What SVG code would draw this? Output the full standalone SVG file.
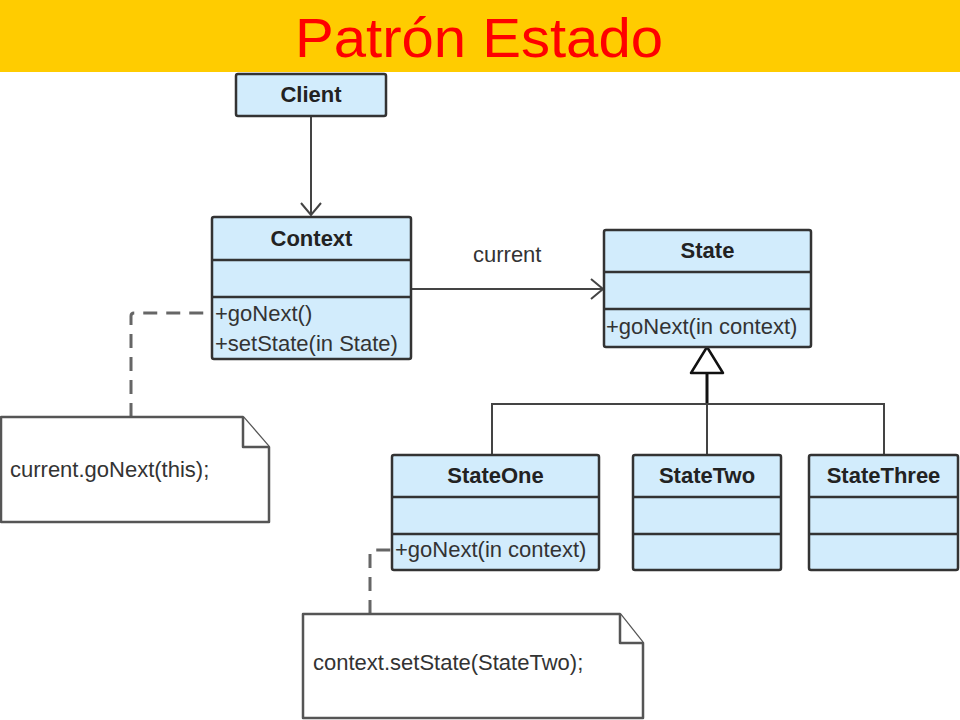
<svg xmlns="http://www.w3.org/2000/svg" width="960" height="720" viewBox="0 0 960 720">
<defs>
<style>
.box{fill:#D2ECFC;stroke:#333;stroke-width:2.5}
.sep{stroke:#333;stroke-width:2.5}
.hd{font-family:"Liberation Sans",Arial,sans-serif;font-weight:bold;font-size:22px;fill:#222;text-anchor:middle}
.op{font-family:"Liberation Sans",Arial,sans-serif;font-size:22px;fill:#333}
.note{fill:#fff;stroke:#555;stroke-width:2.5;stroke-linejoin:round}
.ln{fill:none;stroke:#444;stroke-width:2}
.dash{fill:none;stroke:#666;stroke-width:3;stroke-dasharray:14 9}
</style>
<marker id="open" viewBox="0 0 14 22" refX="13" refY="11" markerWidth="14" markerHeight="22" markerUnits="userSpaceOnUse" orient="auto">
<path d="M1,1 L13,11 L1,21" fill="none" stroke="#444" stroke-width="2"/>
</marker>
</defs>
<rect width="960" height="720" fill="#fff"/>
<g id="title">
<rect x="0" y="0" width="960" height="72" fill="#FFCC00"/>
<text x="295" y="57" font-family="Liberation Sans,Arial,sans-serif" font-size="56" fill="#FF0000" textLength="368" lengthAdjust="spacingAndGlyphs">Patrón Estado</text>
</g>
<g id="connectors">
<path class="ln" d="M311,116 V215" marker-end="url(#open)"/>
<path class="ln" d="M411,289 H603" marker-end="url(#open)"/>
<text class="op" x="473" y="262">current</text>
<path d="M707,373 V404" fill="none" stroke="#111" stroke-width="3"/>
<path class="ln" stroke-width="2.5" d="M492,455 V404 H884 V455 M707,404 V455"/>
<path d="M707,347 L723,373 L691,373 Z" fill="#fff" stroke="#111" stroke-width="2.5" stroke-linejoin="round"/>
<path class="dash" d="M131,417 V316 Q131,313 134,313 H214"/>
<path class="dash" stroke-width="2.5" d="M370,614 V553 Q370,550 373,550 H393"/>
</g>
<g id="client">
<rect class="box" x="236" y="74" width="150" height="42" rx="2"/>
<text class="hd" x="311" y="102">Client</text>
</g>
<g id="context">
<rect class="box" x="212" y="217" width="199" height="142" rx="2"/>
<line class="sep" x1="212" y1="260" x2="411" y2="260"/>
<line class="sep" x1="212" y1="297" x2="411" y2="297"/>
<text class="hd" x="311.5" y="246">Context</text>
<text class="op" x="215" y="321">+goNext()</text>
<text class="op" x="215" y="351">+setState(in State)</text>
</g>
<g id="state">
<rect class="box" x="604" y="230" width="207" height="117" rx="2"/>
<line class="sep" x1="604" y1="272" x2="811" y2="272"/>
<line class="sep" x1="604" y1="309" x2="811" y2="309"/>
<text class="hd" x="707.5" y="258">State</text>
<text class="op" x="606" y="334">+goNext(in context)</text>
</g>
<g id="stateOne">
<rect class="box" x="392" y="455" width="207" height="115" rx="2"/>
<line class="sep" x1="392" y1="497" x2="599" y2="497"/>
<line class="sep" x1="392" y1="534" x2="599" y2="534"/>
<text class="hd" x="495.5" y="483">StateOne</text>
<text class="op" x="395" y="557">+goNext(in context)</text>
</g>
<g id="stateTwo">
<rect class="box" x="633" y="455" width="148" height="115" rx="2"/>
<line class="sep" x1="633" y1="497" x2="781" y2="497"/>
<line class="sep" x1="633" y1="534" x2="781" y2="534"/>
<text class="hd" x="707" y="483">StateTwo</text>
</g>
<g id="stateThree">
<rect class="box" x="809" y="455" width="149" height="115" rx="2"/>
<line class="sep" x1="809" y1="497" x2="958" y2="497"/>
<line class="sep" x1="809" y1="534" x2="958" y2="534"/>
<text class="hd" x="883.5" y="483">StateThree</text>
</g>
<g id="note1">
<path class="note" d="M1,417 H243 L269,447 V522 H1 Z"/>
<path class="note" fill="none" d="M243,417 V447 H269"/>
<text class="op" x="10" y="477">current.goNext(this);</text>
</g>
<g id="note2">
<path class="note" d="M303,614 H620 L643,643 V718 H303 Z"/>
<path class="note" fill="none" d="M620,614 V643 H643"/>
<text class="op" x="313" y="670">context.setState(StateTwo);</text>
</g>
</svg>
